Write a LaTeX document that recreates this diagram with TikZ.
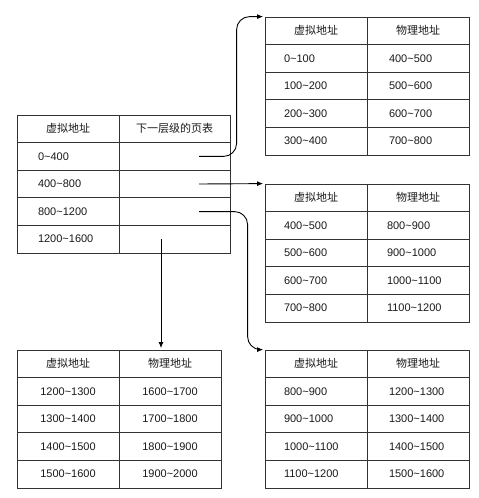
\documentclass[tikz,border=0pt]{standalone}
\usepackage{fontspec}
\setmainfont{Liberation Sans}
\newfontfamily\cjk{Noto Sans CJK SC}
\usetikzlibrary{arrows.meta}

\newcommand{\rng}[2]{#1\textasciitilde#2}

\begin{document}
\begin{tikzpicture}[x=1pt,y=-1pt]
	\tikzset{cell/.style = {shape=rectangle,draw=black!80,line width=0.8pt,
			minimum width=102pt,minimum height=27.6pt,inner sep=0pt,
			text=black!90,font=\fontsize{11pt}{13pt}\selectfont}}
	\tikzset{cellH/.style = {cell,font=\fontsize{11pt}{13pt}\cjk}}
	\tikzset{cellL/.style = {cell,text width=64pt,align=left,inner xsep=19pt}}
	\tikzset{cellR/.style = {cell,text width=62pt,align=left,inner xsep=20pt}}
	\tikzset{edge/.style = {-{Latex[length=6pt,width=5pt]},line width=0.9pt,
			shorten >=1.5pt}}
	\useasboundingbox (0,0) rectangle (479,498);

	% first level table
	\node[cellH] (mhl) at (68,128.8) {虚拟地址};
	\node[cellH,minimum width=111pt] (mhr) at (174.5,128.8) {下一层级的页表};
	\foreach \lo/\hi [count=\i] in {0/400,400/800,800/1200,1200/1600} {
		\node[cellL,text width=60pt,inner xsep=21pt] (ml\i) at (68,{115+27.6*(\i+0.5)}) {\rng{\lo}{\hi}};
		\node[cell,minimum width=111pt] (mr\i) at (174.5,{115+27.6*(\i+0.5)}) {};
	}

	% second level tables
	\node[cellH] (t1hl) at (316,30.8) {虚拟地址};
	\node[cellH] (t1hr) at (418,30.8) {物理地址};
	\foreach \lo/\hi/\plo/\phi [count=\i] in {0/100/400/500,100/200/500/600,
			200/300/600/700,300/400/700/800} {
		\node[cellL] (t1l\i) at (316,{17+27.6*(\i+0.5)}) {\rng{\lo}{\hi}};
		\node[cellR,inner xsep=22pt,text width=58pt] (t1r\i) at (418,{17+27.6*(\i+0.5)}) {\rng{\plo}{\phi}};
	}

	\node[cellH] (t2hl) at (316,197.8) {虚拟地址};
	\node[cellH] (t2hr) at (418,197.8) {物理地址};
	\foreach \lo/\hi/\plo/\phi [count=\i] in {400/500/800/900,500/600/900/1000,
			600/700/1000/1100,700/800/1100/1200} {
		\node[cellL] (t2l\i) at (316,{184+27.6*(\i+0.5)}) {\rng{\lo}{\hi}};
		\node[cellR] (t2r\i) at (418,{184+27.6*(\i+0.5)}) {\rng{\plo}{\phi}};
	}

	\node[cellH] (t3hl) at (68,363.8) {虚拟地址};
	\node[cellH] (t3hr) at (170,363.8) {物理地址};
	\foreach \lo/\hi/\plo/\phi [count=\i] in {1200/1300/1600/1700,1300/1400/1700/1800,
			1400/1500/1800/1900,1500/1600/1900/2000} {
		\node[cell] (t3l\i) at (68,{350+27.6*(\i+0.5)}) {\rng{\lo}{\hi}};
		\node[cell] (t3r\i) at (170,{350+27.6*(\i+0.5)}) {\rng{\plo}{\phi}};
	}

	\node[cellH] (t4hl) at (316,363.8) {虚拟地址};
	\node[cellH] (t4hr) at (418,363.8) {物理地址};
	\foreach \lo/\hi/\plo/\phi [count=\i] in {800/900/1200/1300,900/1000/1300/1400,
			1000/1100/1400/1500,1100/1200/1500/1600} {
		\node[cellL] (t4l\i) at (316,{350+27.6*(\i+0.5)}) {\rng{\lo}{\hi}};
		\node[cellR,inner xsep=22pt,text width=58pt] (t4r\i) at (418,{350+27.6*(\i+0.5)}) {\rng{\plo}{\phi}};
	}

	% pointers
	\coordinate (s1) at ([xshift=24.5pt]mr1.center);
	\coordinate (s2) at ([xshift=24.5pt]mr2.center);
	\coordinate (s3) at ([xshift=24.5pt]mr3.center);
	\coordinate (s4) at ([xshift=-13.5pt]mr4.center);

	\draw[edge,rounded corners=13pt] (s1) -| ([xshift=-28pt]t1hl.north west) -- (t1hl.north west);
	\draw[edge] (s2) -- (t2hl.north west);
	\draw[edge,rounded corners=13pt] (s3) -| ([xshift=-17pt]t4hl.north west) -- (t4hl.north west);
	\draw[edge] (s4) -- (s4 |- t3hr.north);
\end{tikzpicture}
\end{document}
